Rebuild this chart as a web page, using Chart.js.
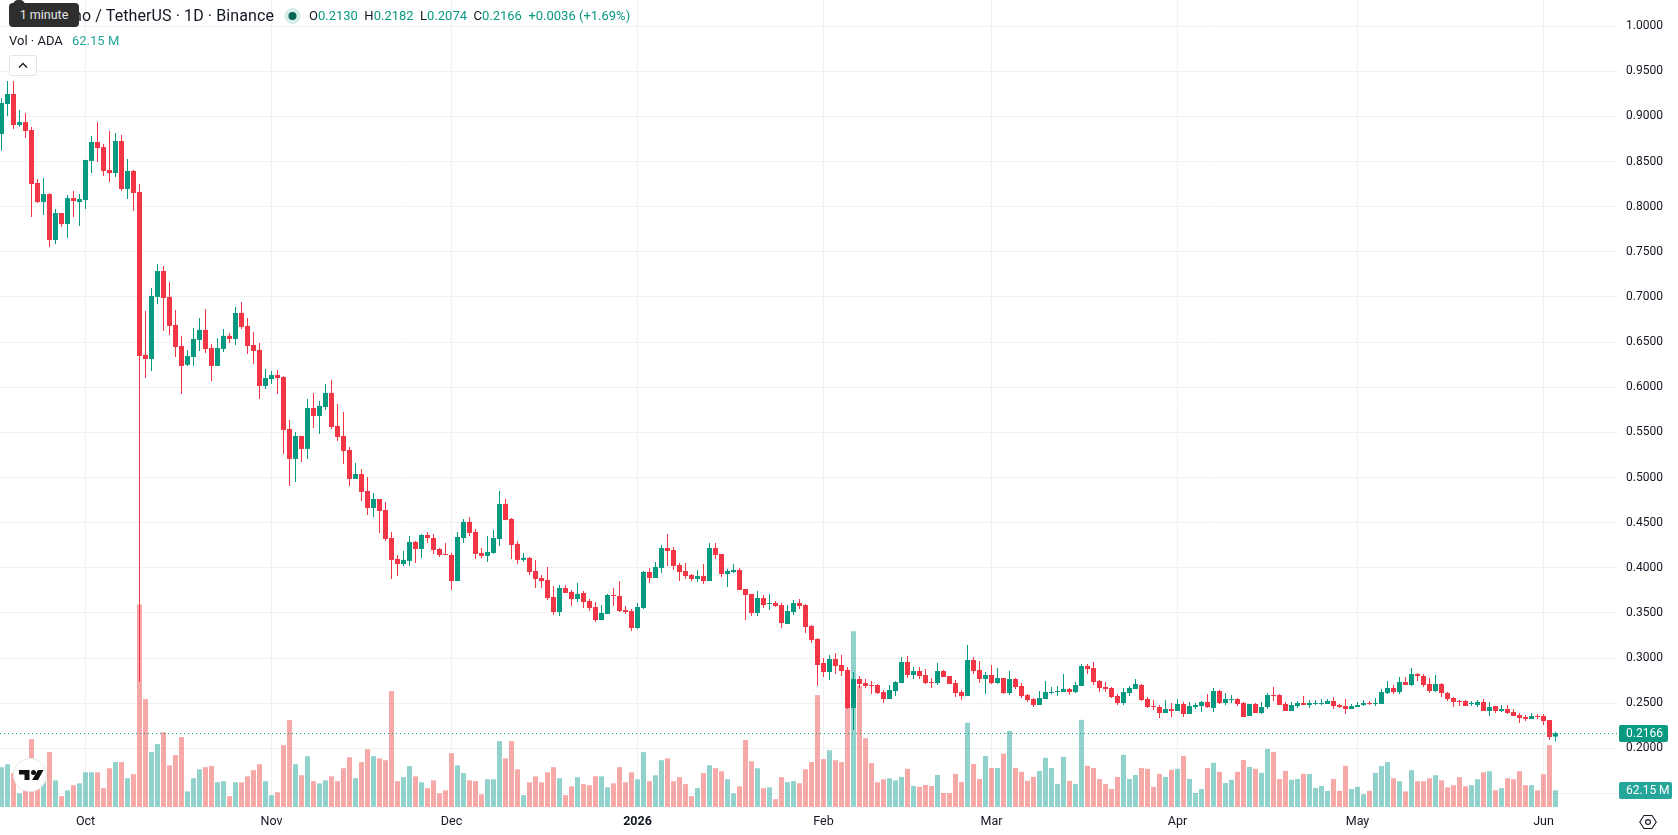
<!DOCTYPE html>
<html>
<head>
<meta charset="utf-8">
<title>ADA / USDT</title>
<script src="https://cdn.jsdelivr.net/npm/chart.js@4"></script>
<style>
  html, body { margin: 0; padding: 0; background: #fff; overflow: hidden; }
  body { width: 1678px; height: 835px; position: relative; font-family: Roboto, sans-serif; color: #131722; }
  #chart { position: absolute; left: 0; top: 0; }
  .abs { position: absolute; white-space: nowrap; }
  .up { color: #089981; }
  .tip { left: 9px; top: 3px; width: 70px; height: 24px; line-height: 24px; background: #2e2e2e; color: #e6e6e6; border-radius: 4px; font-size: 12.5px; text-align: center; }
  .tip:before { content: ""; position: absolute; left: 4px; top: -3px; width: 12px; height: 8px; background: #2e2e2e; border-radius: 5px 5px 0 0; }
  .legend { font-size: 14px; line-height: 20px; }
  .btn { left: 9px; top: 55px; width: 26px; height: 19px; border: 1px solid #e0e3eb; border-radius: 3px; background: #fff; }
</style>
</head>
<body>
<canvas id="chart" width="1678" height="835"></canvas>

<div class="abs legend" style="right:1404px;top:6px;font-size:16px;letter-spacing:0.1px">Cardano / TetherUS · 1D · Binance</div>
<div class="abs tip">1 minute</div>
<svg class="abs" style="left:283px;top:6px" width="20" height="20"><circle cx="9.5" cy="10" r="8" fill="#d7ece8"/><circle cx="9.5" cy="10" r="4" fill="#056656"/></svg>
<div class="abs legend" style="left:309px;top:6px;font-size:13px">O<span class="up">0.2130</span>&nbsp; H<span class="up">0.2182</span>&nbsp; L<span class="up">0.2074</span>&nbsp; C<span class="up">0.2166</span>&nbsp; <span class="up">+0.0036 (+1.69%)</span></div>
<div class="abs legend" style="left:9px;top:31px;font-size:13px">Vol · ADA</div>
<div class="abs legend" style="left:72px;top:31px;font-size:13px;color:#26a69a">62.15 M</div>
<div class="abs btn"><svg width="26" height="19"><path d="M9 11.5 L13 7.5 L17 11.5" fill="none" stroke="#131722" stroke-width="1.3"/></svg></div>

<svg class="abs" style="left:13px;top:758px" width="34" height="34">
  <circle cx="17" cy="17" r="16.5" fill="#fff" stroke="#e6e6e6"/>
  <path d="M6 12h10.5v10h-5v-5.5H6z M25 12h5.5l-5.5 10h-6z" fill="#111"/>
  <circle cx="20.5" cy="14.5" r="2.5" fill="#111"/>
</svg>
<svg class="abs" style="left:1639px;top:813px" width="18" height="18">
  <path d="M5 2.5h8l4.2 6.5L13 15.5H5L.8 9z" fill="none" stroke="#131722" stroke-width="1.1"/>
  <circle cx="9" cy="9" r="2.4" fill="none" stroke="#131722" stroke-width="1.1"/>
</svg>

<script>
// daily ADA/USDT candles, 17 Sep 2025 to 3 Jun 2026
const opens = [
  .8805,.9138,.9249,.8905,.8938,.8850,.8263,.8052,.8140,.7631,.7930,.7808,.8096,.8052,.8074,.8507,.8717,.8661,.8407,.8373,
  .8728,.8196,.8396,.8163,.6358,.6313,.7000,.7288,.7000,.6690,.6457,.6247,.6335,.6524,.6635,.6435,.6236,.6424,.6569,.6535,
  .6823,.6679,.6468,.6413,.6014,.6091,.6136,.6113,.5538,.5206,.5460,.5317,.5770,.5682,.5781,.5937,.5571,.5460,.5305,.4984,
  .5039,.4851,.4662,.4762,.4640,.4330,.4098,.4042,.4076,.4286,.4208,.4363,.4330,.4208,.4153,.4142,.3853,.4330,.4508,.4397,
  .4164,.4131,.4164,.4319,.4707,.4541,.4264,.4087,.4109,.3964,.3887,.3865,.3676,.3510,.3776,.3732,.3654,.3721,.3632,.3565,
  .3421,.3488,.3698,.3687,.3532,.3521,.3333,.3554,.3953,.3887,.3998,.4219,.4197,.4031,.3964,.3920,.3876,.3909,.3853,.4219,
  .4153,.3931,.3953,.3975,.3765,.3710,.3499,.3665,.3599,.3610,.3587,.3377,.3510,.3610,.3587,.3355,.3211,.2945,.2845,.2989,
  .2923,.2867,.2446,.2768,.2723,.2701,.2701,.2623,.2546,.2635,.2723,.2956,.2812,.2856,.2812,.2734,.2723,.2856,.2801,.2723,
  .2623,.2579,.2978,.2867,.2768,.2812,.2723,.2779,.2612,.2768,.2690,.2590,.2546,.2480,.2546,.2612,.2623,.2623,.2657,.2623,
  .2690,.2912,.2889,.2746,.2679,.2668,.2579,.2502,.2612,.2657,.2701,.2546,.2468,.2457,.2391,.2435,.2413,.2491,.2380,.2457,
  .2468,.2513,.2446,.2635,.2502,.2535,.2546,.2502,.2358,.2491,.2391,.2457,.2590,.2590,.2491,.2413,.2468,.2502,.2480,.2491,
  .2491,.2491,.2524,.2480,.2468,.2435,.2457,.2480,.2502,.2491,.2491,.2612,.2668,.2623,.2734,.2701,.2823,.2801,.2712,.2635,
  .2712,.2612,.2557,.2524,.2524,.2491,.2480,.2513,.2413,.2468,.2413,.2435,.2402,.2369,.2347,.2324,.2358,.2358,.2313,.2130
];
const highs = [
  .9201,.9393,.9393,.9071,.9038,.8883,.8307,.8318,.8152,.7974,.7930,.8129,.8174,.8140,.8518,.8783,.8938,.8695,.8839,.8817,
  .8794,.8529,.8407,.8251,.6845,.7100,.7365,.7343,.7166,.6856,.6569,.6413,.6657,.6768,.6867,.6479,.6546,.6646,.6602,.6889,
  .6945,.6768,.6613,.6490,.6202,.6180,.6191,.6125,.5637,.5505,.5460,.5870,.5937,.5848,.6036,.6080,.5815,.5726,.5339,.5161,
  .5095,.5006,.4829,.4762,.4729,.4397,.4142,.4186,.4352,.4297,.4374,.4397,.4374,.4219,.4275,.4164,.4397,.4541,.4563,.4430,
  .4219,.4352,.4419,.4851,.4762,.4552,.4297,.4164,.4120,.4087,.3920,.4009,.3798,.3809,.3809,.3754,.3831,.3743,.3654,.3621,
  .3587,.3710,.3776,.3853,.3576,.3543,.3610,.3964,.3998,.4065,.4253,.4374,.4230,.4053,.4053,.3931,.3975,.4042,.4275,.4275,
  .4153,.3986,.4042,.3998,.3765,.3710,.3743,.3698,.3710,.3632,.3610,.3587,.3643,.3654,.3599,.3366,.3222,.3000,.3033,.3055,
  .3033,.2901,.2845,.2801,.2768,.2746,.2712,.2646,.2701,.2746,.3011,.3022,.2901,.2901,.2878,.2779,.2945,.2867,.2801,.2757,
  .2646,.3145,.3011,.2967,.2845,.2923,.2889,.2779,.2856,.2779,.2723,.2601,.2557,.2635,.2746,.2679,.2690,.2823,.2668,.2734,
  .2934,.2934,.2956,.2757,.2734,.2679,.2601,.2668,.2690,.2768,.2712,.2568,.2535,.2480,.2535,.2502,.2546,.2513,.2513,.2502,
  .2524,.2601,.2668,.2646,.2612,.2590,.2557,.2513,.2491,.2502,.2513,.2612,.2679,.2601,.2513,.2513,.2524,.2579,.2535,.2535,
  .2546,.2546,.2568,.2491,.2546,.2491,.2513,.2535,.2524,.2557,.2657,.2746,.2701,.2790,.2790,.2889,.2834,.2823,.2779,.2812,
  .2723,.2623,.2568,.2535,.2535,.2524,.2535,.2546,.2513,.2468,.2480,.2480,.2435,.2391,.2369,.2391,.2380,.2380,.2313,.2182
];
const lows = [
  .8620,.9005,.8861,.8883,.8761,.7886,.8041,.7908,.7554,.7587,.7775,.7653,.7886,.7786,.7974,.8373,.8495,.8340,.8274,.8329,
  .8174,.8085,.7952,.2734,.6102,.6180,.6923,.6624,.6580,.6335,.5925,.6236,.6236,.6402,.6380,.6069,.6236,.6391,.6490,.6468,
  .6646,.6369,.6258,.5870,.5981,.6036,.5925,.5261,.4906,.4950,.5172,.5206,.5549,.5482,.5748,.5538,.5405,.5150,.4906,.4984,
  .4740,.4585,.4563,.4386,.4297,.3876,.3909,.4020,.4020,.4053,.4109,.4275,.4153,.4120,.4142,.3754,.3853,.4275,.4352,.4098,
  .4109,.4065,.4153,.4241,.4530,.4098,.4042,.4065,.3920,.3776,.3776,.3643,.3477,.3466,.3721,.3576,.3621,.3554,.3521,.3399,
  .3421,.3488,.3576,.3510,.3488,.3300,.3322,.3543,.3831,.3887,.3942,.4020,.3975,.3853,.3876,.3853,.3842,.3820,.3853,.4098,
  .3898,.3787,.3942,.3754,.3421,.3466,.3466,.3554,.3532,.3565,.3333,.3377,.3477,.3543,.3278,.3167,.2690,.2790,.2757,.2823,
  .2801,.2435,.2202,.2668,.2668,.2601,.2601,.2502,.2546,.2579,.2723,.2779,.2768,.2768,.2712,.2668,.2701,.2790,.2712,.2568,
  .2535,.2579,.2823,.2723,.2601,.2712,.2712,.2601,.2590,.2657,.2557,.2513,.2457,.2480,.2546,.2601,.2579,.2623,.2590,.2612,
  .2690,.2823,.2701,.2623,.2623,.2557,.2480,.2480,.2579,.2657,.2524,.2446,.2424,.2336,.2391,.2347,.2413,.2347,.2380,.2435,
  .2402,.2446,.2402,.2491,.2480,.2502,.2468,.2347,.2358,.2391,.2380,.2435,.2524,.2480,.2413,.2413,.2446,.2480,.2446,.2480,
  .2480,.2491,.2435,.2446,.2380,.2435,.2457,.2468,.2480,.2468,.2491,.2601,.2601,.2601,.2701,.2690,.2746,.2679,.2612,.2623,
  .2568,.2524,.2457,.2468,.2468,.2468,.2457,.2413,.2358,.2391,.2402,.2380,.2358,.2281,.2302,.2324,.2324,.2258,.2092,.2074
];
const closes = [
  .9149,.9249,.8905,.8938,.8839,.8251,.8052,.8140,.7631,.7930,.7808,.8096,.8063,.8085,.8518,.8717,.8650,.8396,.8373,.8728,
  .8196,.8396,.8152,.6347,.6313,.7011,.7288,.6989,.6679,.6446,.6236,.6347,.6535,.6635,.6424,.6236,.6435,.6569,.6535,.6823,
  .6668,.6457,.6402,.6014,.6102,.6136,.6102,.5527,.5206,.5460,.5317,.5770,.5682,.5793,.5937,.5560,.5449,.5294,.4984,.5039,
  .4840,.4662,.4762,.4629,.4319,.4087,.4042,.4087,.4286,.4208,.4363,.4330,.4197,.4142,.4142,.3853,.4341,.4508,.4386,.4153,
  .4131,.4175,.4330,.4707,.4530,.4253,.4087,.4109,.3953,.3876,.3853,.3665,.3510,.3776,.3721,.3654,.3710,.3621,.3554,.3421,
  .3499,.3698,.3687,.3521,.3510,.3333,.3565,.3953,.3887,.4009,.4219,.4186,.4020,.3953,.3909,.3876,.3909,.3853,.4219,.4142,
  .3931,.3964,.3975,.3754,.3698,.3499,.3665,.3587,.3610,.3576,.3388,.3521,.3610,.3576,.3344,.3200,.2923,.2845,.2989,.2912,
  .2856,.2446,.2768,.2712,.2690,.2690,.2612,.2546,.2646,.2734,.2956,.2812,.2856,.2801,.2723,.2723,.2856,.2790,.2712,.2612,
  .2579,.2978,.2856,.2768,.2812,.2723,.2779,.2612,.2768,.2679,.2579,.2535,.2480,.2557,.2623,.2623,.2635,.2657,.2623,.2701,
  .2912,.2878,.2734,.2668,.2657,.2568,.2502,.2623,.2668,.2712,.2535,.2457,.2457,.2391,.2435,.2413,.2491,.2380,.2468,.2480,
  .2513,.2457,.2635,.2502,.2546,.2546,.2491,.2347,.2491,.2391,.2457,.2590,.2579,.2480,.2413,.2480,.2502,.2480,.2502,.2502,
  .2502,.2524,.2468,.2457,.2435,.2468,.2480,.2502,.2491,.2502,.2623,.2668,.2623,.2734,.2701,.2823,.2801,.2701,.2635,.2712,
  .2612,.2546,.2513,.2513,.2468,.2502,.2513,.2413,.2457,.2413,.2435,.2391,.2358,.2336,.2324,.2358,.2347,.2302,.2125,.2166
];
// traded volume, millions of ADA
const volumes = [
  148,159,126,51,99,252,87,99,204,99,40,62,81,88,129,129,129,70,144,167,
  167,107,122,753,401,204,234,278,155,193,260,58,107,140,148,152,92,96,40,92,
  92,114,137,159,96,44,55,230,323,159,118,189,96,88,99,114,96,144,185,107,
  167,215,189,181,174,431,96,111,152,114,92,70,99,51,62,200,155,126,99,96,
  47,103,103,245,181,245,140,44,92,114,92,129,148,107,44,77,111,85,81,114,
  114,73,88,148,92,129,103,204,96,118,174,181,96,111,85,40,70,126,155,144,
  133,103,51,77,249,170,144,70,73,29,111,92,96,88,140,167,416,178,211,174,
  167,474,653,451,256,163,92,103,107,99,112,142,78,75,82,78,119,52,52,123,
  93,313,160,104,190,145,145,198,283,145,131,97,112,134,183,145,86,186,97,86,
  324,153,145,104,86,67,112,194,104,119,145,142,75,123,112,138,142,190,104,52,
  67,145,164,131,89,101,131,175,149,142,127,216,205,104,134,101,104,123,123,71,
  78,60,104,60,153,67,75,48,60,127,152,167,107,96,58,137,96,96,107,118,
  99,73,81,111,77,81,103,129,133,62,70,107,103,133,81,81,62,122,230,62.15
];
const priceTicks = [0.15,0.2,0.25,0.3,0.35,0.4,0.45,0.5,0.55,0.6,0.65,0.7,0.75,0.8,0.85,0.9,0.95,1];
// candle index of each month start
const monthTicks = [14,45,75,106,137,165,196,226,257];
const monthLabels = ["Oct","Nov","Dec","2026","Feb","Mar","Apr","May","Jun"];

const UP = "#089981";
const DOWN = "#f23645";
const VOL_UP = "rgba(38,166,154,0.5)";
const VOL_DOWN = "rgba(239,83,80,0.5)";
const AXIS_FONT = "Roboto, sans-serif";

const days = opens.map((_, i) => i);
const isUp = (i) => closes[i] >= opens[i];
const candleColors = days.map((i) => (isUp(i) ? UP : DOWN));
const volumeColors = days.map((i) => (isUp(i) ? VOL_UP : VOL_DOWN));

// last price line plus the two coloured tags on the price axis
const lastValueTags = {
  id: "lastValueTags",
  afterDraw(chart) {
    const { ctx, chartArea, scales } = chart;
    const last = days.length - 1;
    const priceY = Math.round(scales.y.getPixelForValue(closes[last])) + 0.5;
    const volY = Math.round(scales.yVol.getPixelForValue(volumes[last])) + 0.5;

    ctx.save();
    ctx.strokeStyle = UP;
    ctx.lineWidth = 1;
    ctx.setLineDash([1, 3]);
    ctx.beginPath();
    ctx.moveTo(chartArea.left, priceY);
    ctx.lineTo(chartArea.right, priceY);
    ctx.stroke();
    ctx.setLineDash([]);

    const tag = (y, w, bg, text) => {
      ctx.fillStyle = bg;
      ctx.beginPath();
      ctx.roundRect(chartArea.right + 1, y - 8.5, w, 17, 2);
      ctx.fill();
      ctx.fillStyle = "#fff";
      ctx.font = "12px " + AXIS_FONT;
      ctx.textAlign = "left";
      ctx.textBaseline = "middle";
      ctx.fillText(text, chartArea.right + 8, y + 0.5);
    };
    tag(priceY, 49, UP, closes[last].toFixed(4));
    tag(volY, 53, "#26a69a", "62.15 M");
    ctx.restore();
  },
};

new Chart(document.getElementById("chart"), {
  type: "bar",
  plugins: [lastValueTags],
  data: {
    labels: days,
    datasets: [
      {
        label: "Body",
        data: days.map((i) => [opens[i], closes[i]]),
        backgroundColor: candleColors,
        barThickness: 5,
        minBarLength: 1,
        inflateAmount: 0,
        grouped: false,
        order: 1,
      },
      {
        label: "Wick",
        data: days.map((i) => [lows[i], highs[i]]),
        backgroundColor: candleColors,
        barThickness: 1,
        inflateAmount: 0,
        grouped: false,
        order: 2,
      },
      {
        label: "Volume",
        data: volumes,
        yAxisID: "yVol",
        backgroundColor: volumeColors,
        barThickness: 5,
        inflateAmount: 0,
        grouped: false,
        order: 3,
      },
    ],
  },
  options: {
    responsive: false,
    animation: false,
    layout: { padding: 0 },
    plugins: { legend: { display: false }, tooltip: { enabled: false } },
    scales: {
      x: {
        type: "linear",
        offset: false,
        min: -0.25,
        max: 269.417,
        afterFit: (s) => {
          s.height = 28;
          s.paddingLeft = 0;
          s.paddingRight = 0;
        },
        afterBuildTicks: (s) => { s.ticks = monthTicks.map((value) => ({ value })); },
        border: { display: false },
        grid: { color: "#f1f1f1", drawTicks: false, offset: false },
        ticks: {
          autoSkip: false,
          maxRotation: 0,
          padding: 7,
          color: "#131722",
          font: (c) => ({ family: AXIS_FONT, size: 12.5, weight: monthLabels[c.index] === "2026" ? "bold" : "normal" }),
          callback: (v, i) => monthLabels[i],
        },
      },
      y: {
        position: "right",
        min: 0.13497,
        max: 1.02899,
        afterFit: (s) => {
          // plot runs edge to edge, labels may not pad the top
          s.width = 60;
          s.paddingTop = 0;
          s.paddingBottom = 0;
        },
        afterBuildTicks: (s) => { s.ticks = priceTicks.map((value) => ({ value })); },
        border: { display: false },
        grid: { drawTicks: false, color: "#f1f1f1" },
        ticks: {
          padding: 8,
          color: "#131722",
          font: { family: AXIS_FONT, size: 12 },
          // the 0.15 row sits under the volume tag
          callback: (v) => (v === 0.15 ? "" : v.toFixed(4)),
        },
      },
      yVol: {
        display: false,
        min: 0,
        max: 3000,
      },
    },
  },
});
</script>
</body>
</html>
